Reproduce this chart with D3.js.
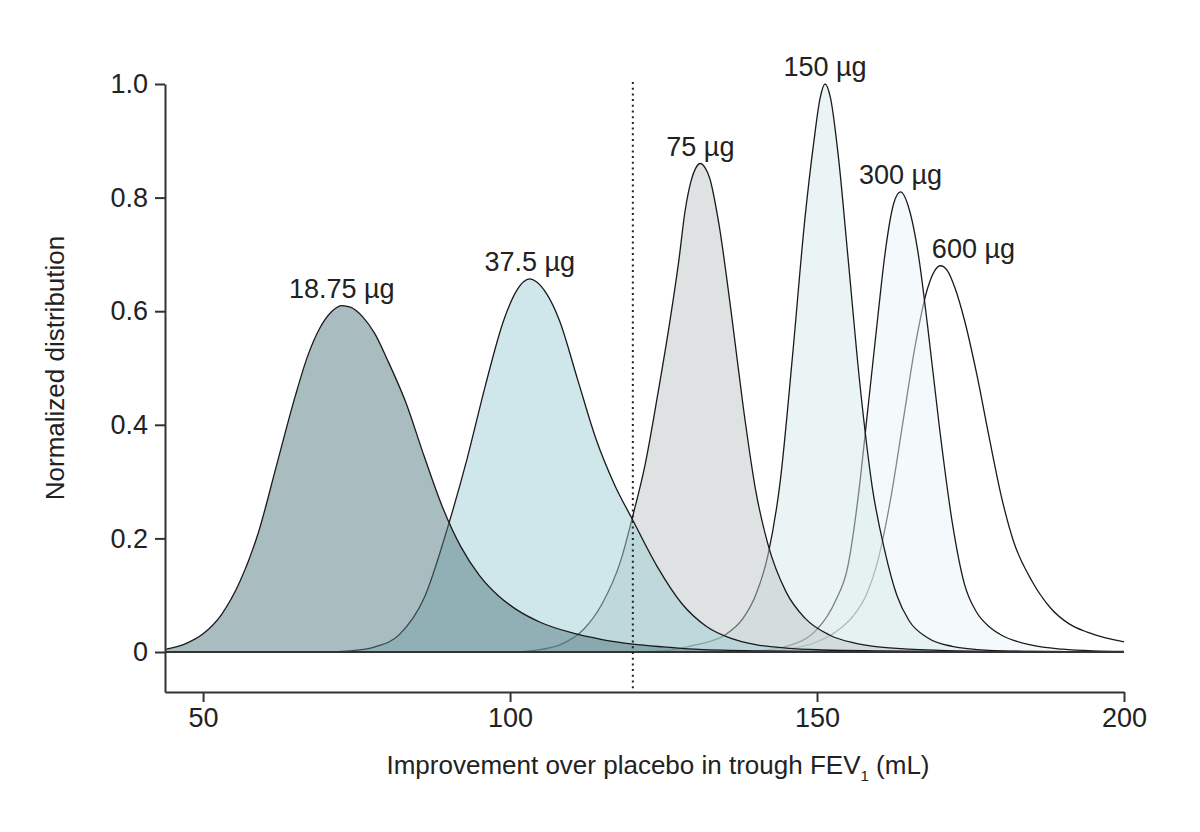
<!DOCTYPE html>
<html>
<head>
<meta charset="utf-8">
<script src="https://cdn.jsdelivr.net/npm/d3@7"></script>
<style>
body { margin: 0; background: #fff; }
text { font-family: "Liberation Sans", Arial, Helvetica, sans-serif; fill: #222; }
</style>
</head>
<body>
<svg id="chart" width="1200" height="832"></svg>
<script>
// dose labels
var doseLabels = ["18.75 µg", "37.5 µg", "75 µg", "150 µg", "300 µg", "600 µg"];

// improvement (mL) and normalized distribution
var x18 = [44, 47, 50, 53, 56, 59, 62, 65, 67, 69, 71, 72.6, 74, 76, 78, 80, 83, 86, 89, 92, 95, 98, 101, 105, 110, 115, 120, 125, 130, 140, 150, 170, 200];
var y18 = [0.005, 0.014, 0.032, 0.066, 0.124, 0.21, 0.33, 0.45, 0.52, 0.57, 0.60, 0.61, 0.607, 0.59, 0.56, 0.515, 0.44, 0.345, 0.255, 0.185, 0.135, 0.1, 0.075, 0.052, 0.034, 0.022, 0.014, 0.009, 0.005, 0.002, 0.001, 0, 0];

var x37 = [44, 70, 74, 78, 82, 86, 90, 93, 96, 99, 101, 102.2, 103.2, 104.3, 106, 108, 111, 114, 117, 120, 124, 128, 132, 136, 140, 145, 150, 160, 170, 200];
var y37 = [0, 0, 0.002, 0.009, 0.031, 0.095, 0.225, 0.34, 0.47, 0.585, 0.635, 0.652, 0.657, 0.652, 0.63, 0.585, 0.48, 0.375, 0.295, 0.232, 0.15, 0.085, 0.045, 0.024, 0.013, 0.007, 0.004, 0.002, 0.001, 0];

var x75 = [44, 100, 104, 108, 112, 115, 118, 120, 122, 124, 126, 127.5, 128.5, 129.5, 130.2, 131, 131.8, 132.5, 134, 136, 138, 140, 142, 145, 148, 152, 156, 160, 165, 170, 180, 200];
var y75 = [0, 0, 0.003, 0.012, 0.04, 0.085, 0.16, 0.24, 0.33, 0.45, 0.58, 0.69, 0.776, 0.83, 0.851, 0.86, 0.852, 0.835, 0.755, 0.6, 0.43, 0.285, 0.19, 0.105, 0.06, 0.03, 0.016, 0.009, 0.005, 0.003, 0.001, 0];

var x150 = [44, 120, 125, 130, 135, 138, 140, 142, 144, 146, 148, 149.5, 150.5, 151.3, 152.2, 153.5, 155, 157, 159, 161, 163, 165, 168, 172, 178, 185, 200];
var y150 = [0, 0, 0.002, 0.012, 0.03, 0.06, 0.1, 0.17, 0.3, 0.52, 0.76, 0.9, 0.975, 1.0, 0.975, 0.87, 0.7, 0.47, 0.29, 0.18, 0.1, 0.055, 0.025, 0.01, 0.003, 0.001, 0];

var x300 = [44, 135, 140, 145, 150, 153, 155, 157, 158, 159, 160, 161, 162.5, 163.6, 165, 166.5, 168, 170, 172, 174, 176, 178, 180, 185, 190, 195, 200];
var y300 = [0, 0, 0.002, 0.01, 0.04, 0.09, 0.15, 0.3, 0.4, 0.5, 0.6, 0.695, 0.79, 0.81, 0.78, 0.7, 0.575, 0.39, 0.23, 0.12, 0.07, 0.045, 0.03, 0.012, 0.005, 0.002, 0.001];

var x600 = [44, 135, 140, 145, 150, 153, 156, 158, 160, 162, 164, 166, 168, 169.2, 170.1, 171.2, 172.5, 174, 176, 178, 180, 182, 185, 188, 191, 194, 197, 200];
var y600 = [0, 0, 0.001, 0.005, 0.018, 0.035, 0.065, 0.1, 0.165, 0.27, 0.405, 0.54, 0.64, 0.672, 0.68, 0.672, 0.64, 0.585, 0.49, 0.38, 0.275, 0.195, 0.125, 0.078, 0.05, 0.035, 0.025, 0.018];

var xTicks = [50, 100, 150, 200];
var yTicks = [0, 0.2, 0.4, 0.6, 0.8, 1.0];
var cutoff = 120;

/* styling per curve (fills are drawn half transparent) */
var fills = ["#537981", "#9fcdd5", "#bdc5c5", "#d7e9e9", "#e9f5f7", "#ffffff"];
var labelDx = [0, 0, 0, 0, 0, 33];

var series = [
  {xs: x18, ys: y18}, {xs: x37, ys: y37}, {xs: x75, ys: y75},
  {xs: x150, ys: y150}, {xs: x300, ys: y300}, {xs: x600, ys: y600}
].map(function(s, i) {
  return {
    label: doseLabels[i],
    fill: fills[i],
    dx: labelDx[i],
    pts: s.xs.map(function(v, j) { return {x: v, y: s.ys[j]}; })
  };
});

var svg = d3.select("#chart");

var x = d3.scaleLinear().domain([43.8, 200]).range([165, 1124]);
var y = d3.scaleLinear().domain([-0.0704, 1]).range([692, 84]);

var area = d3.area()
  .curve(d3.curveMonotoneX)
  .x(function(d) { return x(d.x); })
  .y0(y(0))
  .y1(function(d) { return y(d.y); });

var line = d3.line()
  .curve(d3.curveMonotoneX)
  .x(function(d) { return x(d.x); })
  .y(function(d) { return y(d.y); });

// highest dose first, so lower doses sit on top
var drawOrder = series.slice().reverse();
drawOrder.forEach(function(s) {
  svg.append("path")
    .attr("d", area(s.pts))
    .attr("fill", s.fill)
    .attr("fill-opacity", 0.5);
  svg.append("path")
    .attr("d", line(s.pts))
    .attr("fill", "none")
    .attr("stroke", "#1a1a1a")
    .attr("stroke-width", 1.3);
});

// zero baseline
svg.append("line")
  .attr("x1", x(43.8)).attr("x2", x(200))
  .attr("y1", y(0)).attr("y2", y(0))
  .attr("stroke", "#333").attr("stroke-width", 2);

// dotted cutoff line
svg.append("line")
  .attr("x1", x(cutoff)).attr("x2", x(cutoff))
  .attr("y1", y(1) - 2).attr("y2", y(-0.0704) - 2)
  .attr("stroke", "#222").attr("stroke-width", 2)
  .attr("stroke-dasharray", "2,3.7");

// dose labels above the peaks
series.forEach(function(s) {
  var top = s.pts.reduce(function(a, b) { return b.y > a.y ? b : a; });
  svg.append("text")
    .attr("x", x(top.x) + s.dx)
    .attr("y", y(top.y) - 8)
    .attr("text-anchor", "middle")
    .style("font-size", "27px")
    .text(s.label);
});

// axes
var xAxis = d3.axisBottom(x).tickValues(xTicks).tickSize(10).tickSizeOuter(0).tickPadding(6);
var yAxis = d3.axisLeft(y).tickValues(yTicks).tickSize(10).tickSizeOuter(0).tickPadding(7)
  .tickFormat(function(d) { return d === 0 ? "0" : d3.format(".1f")(d); });

var gx = svg.append("g")
  .attr("transform", "translate(0," + y(-0.0704) + ")")
  .call(xAxis);
var gy = svg.append("g")
  .attr("transform", "translate(" + x(43.8) + ",0)")
  .call(yAxis);

[gx, gy].forEach(function(g) {
  g.selectAll("path, line").attr("stroke", "#333").attr("stroke-width", 2);
  g.selectAll("text")
    .style("font-family", "'Liberation Sans', Arial, Helvetica, sans-serif")
    .style("font-size", "27px")
    .attr("fill", "#222");
});

// axis titles
var xt = svg.append("text")
  .attr("x", 658)
  .attr("y", 774)
  .attr("text-anchor", "middle")
  .style("font-size", "26px");
xt.append("tspan").text("Improvement over placebo in trough FEV");
xt.append("tspan").attr("dy", 7).style("font-size", "15px").text("1");
xt.append("tspan").attr("dy", -7).text(" (mL)");

svg.append("text")
  .attr("transform", "translate(64,368) rotate(-90)")
  .attr("text-anchor", "middle")
  .style("font-size", "26px")
  .text("Normalized distribution");
</script>
</body>
</html>
